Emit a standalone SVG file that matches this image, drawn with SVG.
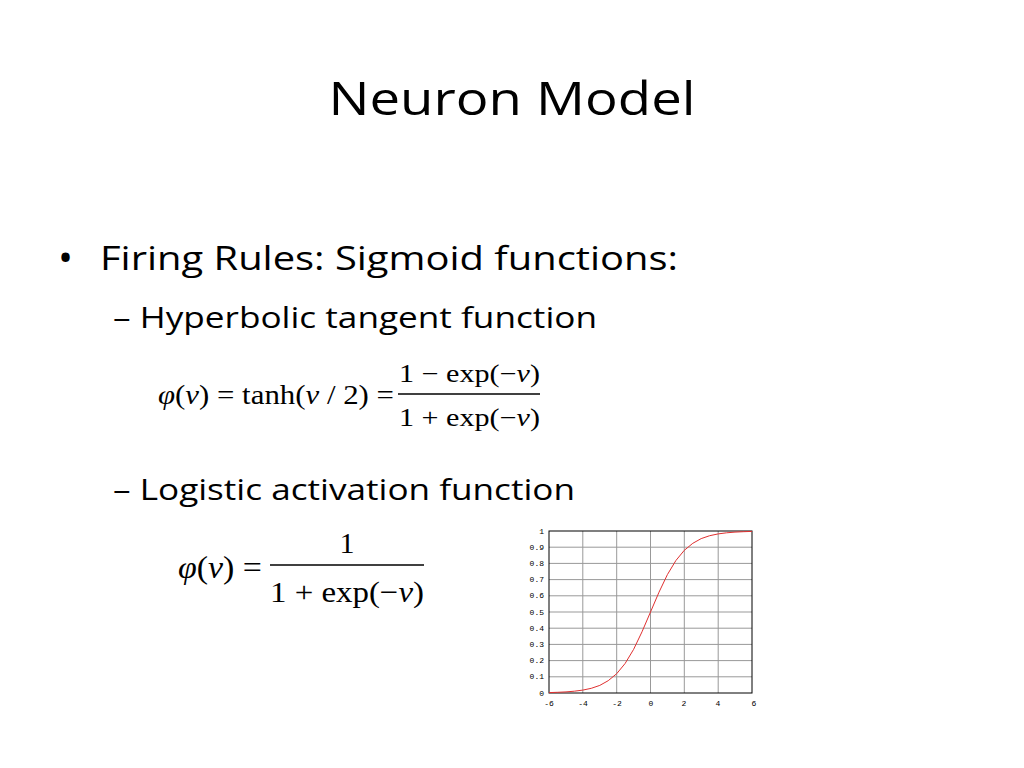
<svg xmlns="http://www.w3.org/2000/svg" width="1024" height="768" viewBox="0 0 1024 768">
<style>
.s{font-family:"Open Sans","Liberation Sans",sans-serif;fill:#000}
.m{font-family:"Liberation Serif",serif;fill:#000}
.g{stroke:#999;stroke-width:1;fill:none}
.t{font-family:"Liberation Mono",monospace;font-size:8px;fill:#000}
</style>
<rect width="1024" height="768" fill="#fff"/>
<text class="s" x="512" y="115" font-size="46" text-anchor="middle" textLength="367" lengthAdjust="spacingAndGlyphs">Neuron Model</text>
<text class="s" x="58" y="272" font-size="40">•</text>
<text class="s" x="100" y="270" font-size="33" textLength="578" lengthAdjust="spacingAndGlyphs">Firing Rules: Sigmoid functions:</text>
<text class="s" x="113" y="328" font-size="29" textLength="484" lengthAdjust="spacingAndGlyphs">– Hyperbolic tangent function</text>
<text class="s" x="113" y="500" font-size="29" textLength="462" lengthAdjust="spacingAndGlyphs">– Logistic activation function</text>
<g id="formula1">
<text class="m" x="158" y="404" font-size="27" textLength="236" lengthAdjust="spacingAndGlyphs"><tspan font-style="italic">φ</tspan>(<tspan font-style="italic">ν</tspan>) = tanh(<tspan font-style="italic">ν</tspan> / 2) =</text>
<text class="m" x="399" y="382" font-size="25" textLength="141" lengthAdjust="spacingAndGlyphs">1 − exp(−<tspan font-style="italic">ν</tspan>)</text>
<line x1="398" y1="394" x2="540" y2="394" stroke="#000" stroke-width="1.5"/>
<text class="m" x="399" y="426" font-size="25" textLength="141" lengthAdjust="spacingAndGlyphs">1 + exp(−<tspan font-style="italic">ν</tspan>)</text>
</g>
<g id="formula2">
<text class="m" x="178" y="578" font-size="31" textLength="84" lengthAdjust="spacingAndGlyphs"><tspan font-style="italic">φ</tspan>(<tspan font-style="italic">ν</tspan>) =</text>
<text class="m" x="347" y="553" font-size="30" text-anchor="middle">1</text>
<line x1="270" y1="565" x2="424" y2="565" stroke="#000" stroke-width="1.5"/>
<text class="m" x="270" y="602" font-size="30" textLength="154" lengthAdjust="spacingAndGlyphs">1 + exp(−<tspan font-style="italic">ν</tspan>)</text>
</g>
<g id="chart">
<path class="g" d="M582.8 531V693M616.7 531V693M650.5 531V693M684.3 531V693M718.2 531V693M549 676.8H752M549 660.6H752M549 644.4H752M549 628.2H752M549 612H752M549 595.8H752M549 579.6H752M549 563.4H752M549 547.2H752"/>
<rect x="549" y="531" width="203" height="162" fill="none" stroke="#000" stroke-width="1"/>
<polyline fill="none" stroke="#e03030" stroke-width="1" points="549,692.6 557.5,692.3 566,691.9 574.4,691.2 582.8,690.1 591.3,688.3 599.8,685.4 608.2,680.7 616.7,673.7 625.1,663.5 633.6,649.4 642,631.8 650.5,612 659,592.2 667.4,574.6 675.9,560.5 684.3,550.3 692.8,543.3 701.2,538.6 709.7,535.7 718.2,533.9 726.6,532.8 735,532.1 743.5,531.7 752,531.4"/>
<g class="t" text-anchor="end">
<text x="544" y="534">1</text><text x="544" y="550">0.9</text><text x="544" y="566">0.8</text><text x="544" y="582">0.7</text><text x="544" y="598">0.6</text><text x="544" y="615">0.5</text><text x="544" y="631">0.4</text><text x="544" y="647">0.3</text><text x="544" y="663">0.2</text><text x="544" y="679">0.1</text><text x="544" y="696">0</text>
</g>
<g class="t" text-anchor="middle">
<text x="549" y="706">-6</text><text x="583" y="706">-4</text><text x="617" y="706">-2</text><text x="651" y="706">0</text><text x="684" y="706">2</text><text x="718" y="706">4</text><text x="754" y="706">6</text>
</g>
</g>
</svg>
